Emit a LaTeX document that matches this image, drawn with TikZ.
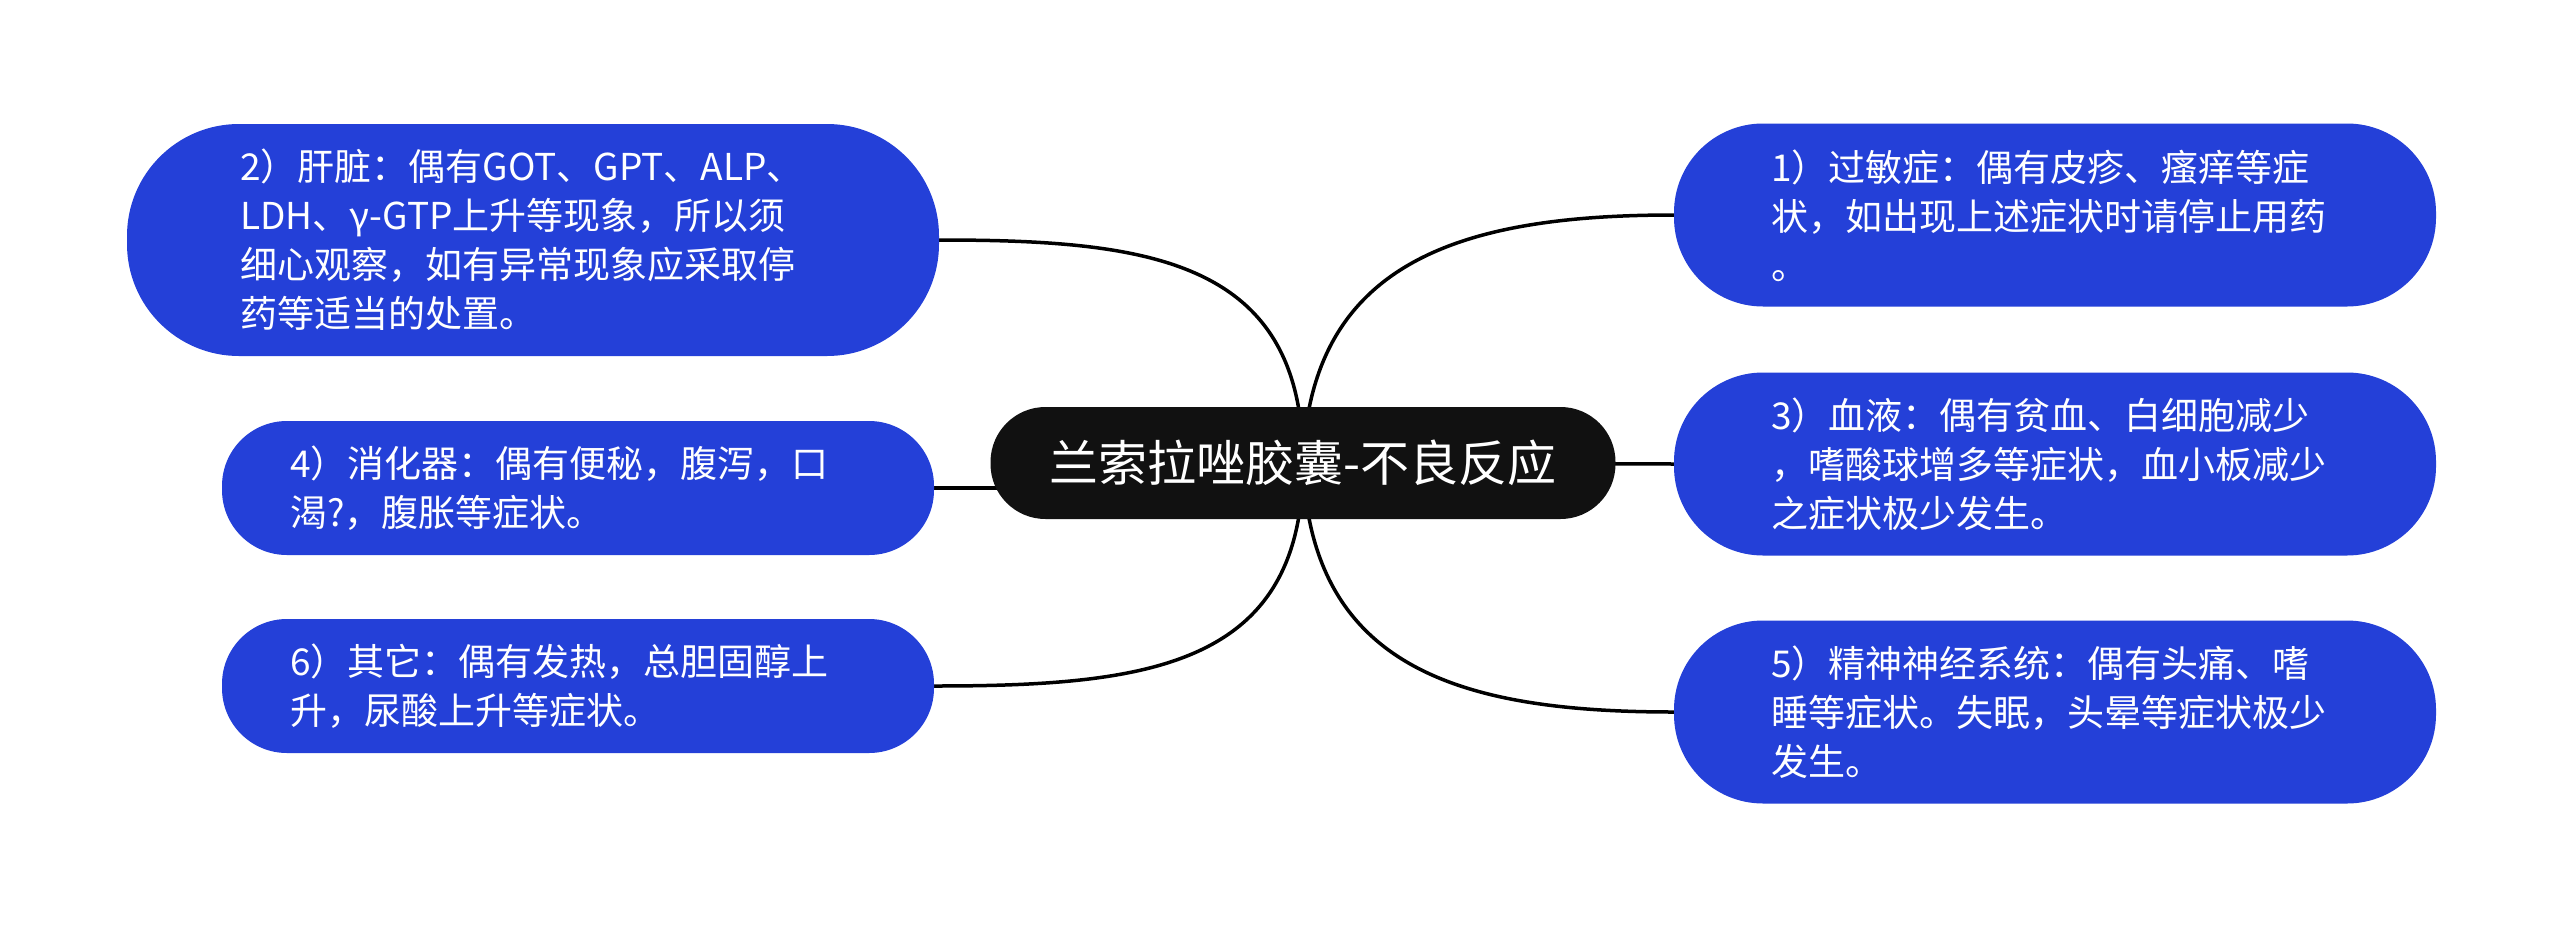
\documentclass[tikz,border=0pt]{standalone}
\usepackage{fontspec}
\newfontfamily\cjk{Noto Sans CJK SC}
\usetikzlibrary{backgrounds}
\definecolor{leafblue}{RGB}{36,64,216}
\definecolor{rootblack}{RGB}{17,17,17}
\begin{document}
\begin{tikzpicture}[x=1pt,y=-1pt,
  leaf/.style={fill=leafblue, draw=none, rectangle, inner sep=0pt},
  leaftext/.style={text=white, font=\cjk\fontsize{37}{49}\selectfont, align=left, inner sep=0pt, anchor=west},
  root/.style={fill=rootblack, text=white, font=\cjk\fontsize{49}{58}\selectfont, inner sep=0pt,
    minimum width=625pt, minimum height=112pt, rounded corners=55pt},
  link/.style={line width=3.5pt, draw=black}]
\useasboundingbox (0,0) rectangle (2560,927);
% boxes
\node[root] (c) at (1303,463) {兰索拉唑胶囊-不良反应};
\node[leaf, minimum width=812pt, minimum height=232pt, rounded corners=112pt] (b2) at (533,240) {};
\node[leaf, minimum width=712pt, minimum height=134pt, rounded corners=65pt] (b4) at (578,488) {};
\node[leaf, minimum width=712pt, minimum height=134pt, rounded corners=65pt] (b6) at (578,686) {};
\node[leaf, minimum width=762pt, minimum height=183pt, rounded corners=89pt] (b1) at (2055,215) {};
\node[leaf, minimum width=762pt, minimum height=183pt, rounded corners=89pt] (b3) at (2055,464) {};
\node[leaf, minimum width=762pt, minimum height=183pt, rounded corners=89pt] (b5) at (2055,712) {};
% texts
\node[leaftext] (t2) at (240,240) {2）肝脏：偶有GOT、GPT、ALP、\\LDH、γ-GTP上升等现象，所以须\\细心观察，如有异常现象应采取停\\药等适当的处置。};
\node[leaftext] (t4) at (290,488) {4）消化器：偶有便秘，腹泻，口\\渴?，腹胀等症状。};
\node[leaftext] (t6) at (290,686) {6）其它：偶有发热，总胆固醇上\\升，尿酸上升等症状。};
\node[leaftext] (t1) at (1771,216) {1）过敏症：偶有皮疹、瘙痒等症\\状，如出现上述症状时请停止用药\\。};
\node[leaftext] (t3) at (1771,464) {3）血液：偶有贫血、白细胞减少\\，嗜酸球增多等症状，血小板减少\\之症状极少发生。};
\node[leaftext] (t5) at (1771,712) {5）精神神经系统：偶有头痛、嗜\\睡等症状。失眠，头晕等症状极少\\发生。};
% connectors
\begin{scope}[on background layer]
\fill[white] (0,0) rectangle (2560,927);
\draw[link] (c.center) .. controls (1303,260) and (1150,240) .. (b2.east);
\draw[link] (b4.east) -- (b4.east -| c.center);
\draw[link] (c.center) .. controls (1303,666) and (1150,686) .. (b6.east);
\draw[link] (c.center) .. controls (1310,262) and (1460,215) .. (b1.west);
\draw[link] (c.center) -- (b3.west);
\draw[link] (c.center) .. controls (1310,668) and (1460,712) .. (b5.west);
\end{scope}
\end{tikzpicture}
\end{document}
